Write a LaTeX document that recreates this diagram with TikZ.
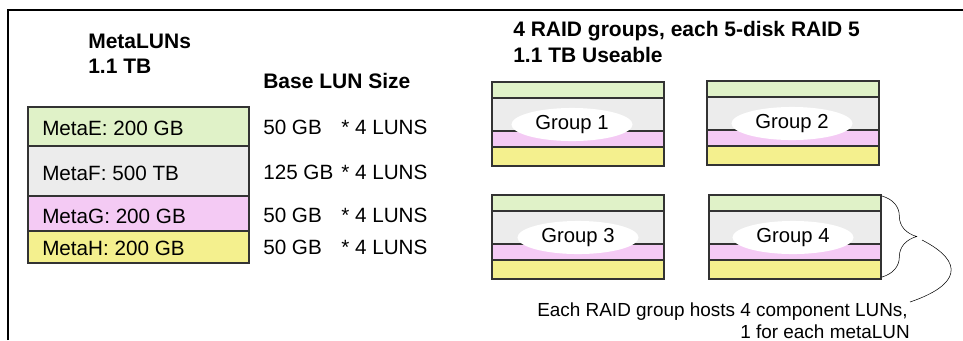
\documentclass[tikz,border=0pt]{standalone}
\usepackage{fontspec}
\setmainfont{Liberation Sans}
\usetikzlibrary{decorations.pathreplacing}
\definecolor{lungreen}{RGB}{224,242,200}
\definecolor{lungray}{RGB}{236,236,236}
\definecolor{lunpink}{RGB}{244,202,244}
\definecolor{lunyellow}{RGB}{244,240,142}

\begin{document}
\begin{tikzpicture}[x=0.75pt,y=-0.75pt]
\tikzset{lunrow/.style ={draw=black!80, line width=0.8pt},
         txt/.style ={inner sep=0, anchor=base west, font=\fontsize{15.5}{18}\selectfont},
         head/.style ={txt, font=\fontsize{15.75}{18}\selectfont\bfseries},
         note/.style ={inner sep=0, anchor=base east, font=\fontsize{14.2}{17}\selectfont}}
\useasboundingbox (0,0) rectangle (963,340);
\draw[line width=1.5pt] (8,340) -- (8,10) -- (963,10);
% headers
\node[head] (meta) at (88,48) {MetaLUNs};
\node[head] (metasize) at (88,73) {1.1 TB};
\node[head] (base) at (263,88) {Base LUN Size};
\node[head] (raid) at (513,36) {4 RAID groups, each 5-disk RAID 5};
\node[head] (use) at (513,62) {1.1 TB Useable};
% metaLUN stack and base LUN sizes
\foreach \ytop/\ybot/\fillc/\lab/\yb/\sz/\nm in
  {107/146/lungreen/{MetaE: 200 GB}/135/50 GB/metae,
   146/196/lungray/{MetaF: 500 TB}/180/125 GB/metaf,
   196/231/lunpink/{MetaG: 200 GB}/223/50 GB/metag,
   231/263/lunyellow/{MetaH: 200 GB}/255/50 GB/metah}{
  \filldraw[lunrow, fill=\fillc] (28,\ytop) rectangle (249,\ybot);
  \node[txt] (\nm) at (42,\yb) {\lab};
  \node[txt] (\nm-size) at (263,\yb-1) {\sz};
  \node[txt] (\nm-luns) at (341,\yb-1) {* 4 LUNS};
}
% RAID groups
\foreach \gx/\gy/\n/\ex in {492/82/1/80, 707/81/2/85, 492/195/3/86, 709/195/4/84}{
  \filldraw[lunrow, fill=lungreen] (\gx,\gy) rectangle ++(172,16);
  \filldraw[lunrow, fill=lungray] (\gx,\gy+16) rectangle ++(172,33);
  \filldraw[lunrow, fill=lunpink] (\gx,\gy+49) rectangle ++(172,16);
  \filldraw[lunrow, fill=lunyellow] (\gx,\gy+65) rectangle ++(172,19);
  \fill[white] (\gx+\ex,\gy+42.5) ellipse [x radius=45.4pt, y radius=12.4pt];
  \node[font=\fontsize{15.2}{18}\selectfont] (g\n) at (\gx+\ex,\gy+42.5) {Group \n};
}
% brace and note
\draw[decorate, decoration={brace, amplitude=26pt}] (882,196) -- (882,277);
\coordinate (bracetip) at (922,240);
\coordinate (noteend) at (910,302);
\draw (bracetip) .. controls (965,262) and (960,285) .. (noteend);
\node[note] (note1) at (908,316) {Each RAID group hosts 4 component LUNs,};
\node[note] (note2) at (910,338) {1 for each metaLUN};
\end{tikzpicture}
\end{document}
